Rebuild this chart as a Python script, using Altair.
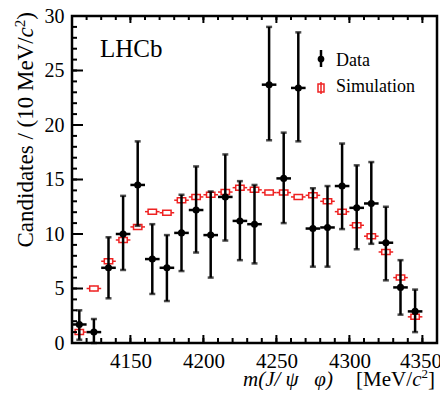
import altair as alt
import pandas as pd

# bin centres of m(J/psi phi) [MeV/c^2], 10 MeV bins
mass = [4115, 4125, 4135, 4145, 4155, 4165, 4175, 4185, 4195, 4205, 4215, 4225,
        4235, 4245, 4255, 4265, 4275, 4285, 4295, 4305, 4315, 4325, 4335, 4345]
data_val = [1.7, 1.0, 6.9, 10.0, 14.5, 7.7, 6.9, 10.1, 12.2, 9.9, 13.4, 11.2,
            10.9, 23.7, 15.1, 23.4, 10.5, 10.6, 14.4, 12.4, 12.8, 9.2, 5.1, 2.9]
data_hi = [3.0, 2.2, 9.7, 13.5, 18.5, 10.9, 9.9, 13.6, 16.2, 13.9, 17.3, 14.85,
           14.5, 29.0, 19.3, 28.5, 14.2, 14.4, 18.3, 16.3, 16.6, 12.5, 7.6, 4.9]
data_lo = [0.3, 0.0, 4.1, 6.7, 10.75, 4.5, 3.85, 6.6, 8.3, 6.0, 9.4, 7.6,
           7.3, 18.6, 11.0, 18.5, 7.0, 7.0, 10.45, 8.6, 9.1, 5.75, 2.6, 1.0]
sim_val = [1.0, 5.0, 7.5, 9.45, 10.65, 12.05, 11.95, 13.1, 13.4, 13.6, 13.85, 14.25,
           14.05, 13.8, 13.8, 13.4, 13.55, 13.0, 12.05, 10.8, 9.8, 8.35, 6.0, 2.4]
sim_err = [0.25, 0.25, 0.25, 0.25, 0.25, 0.25, 0.25, 0.25, 0.25, 0.25, 0.25, 0.25,
           0.25, 0.25, 0.25, 0.25, 0.25, 0.25, 0.25, 0.25, 0.25, 0.25, 0.25, 0.25]
half_bin = 5

x_major = [4150, 4200, 4250, 4300, 4350]
x_minor = [4110, 4120, 4130, 4140, 4150, 4160, 4170, 4180, 4190, 4200, 4210, 4220, 4230,
           4240, 4250, 4260, 4270, 4280, 4290, 4300, 4310, 4320, 4330, 4340, 4350, 4360]
y_major = [0, 5, 10, 15, 20, 25, 30]
y_minor = list(range(0, 31))

RED = "#ee2222"
FONT = "Liberation Serif"
W, H = 365, 327

df = pd.DataFrame({
    "m": mass,
    "val": data_val,
    "hi": data_hi,
    "lo": data_lo,
    "sim": sim_val,
    "serr": sim_err,
})
df["m_lo"] = df["m"] - half_bin
df["m_hi"] = df["m"] + half_bin
df["s_lo"] = df["sim"] - df["serr"]
df["s_hi"] = df["sim"] + df["serr"]

xs = alt.Scale(domain=[4110, 4360], nice=False, zero=False)
ys = alt.Scale(domain=[0, 30], nice=False, zero=True)
xaxis = alt.Axis(values=x_major, title=None, ticks=False, domain=False, grid=False,
                 labelFont=FONT, labelFontSize=21, labelColor="black", labelPadding=7,
                 format="d", labelFlush=False,
                 labelOffset={"condition": {"test": "datum.value == 4350", "value": -2},
                              "value": 0})
yaxis = alt.Axis(values=y_major, title=None, ticks=False, domain=False, grid=False,
                 labelFont=FONT, labelFontSize=20, labelColor="black", labelPadding=8)


def X(f):
    return alt.X(f, type="quantitative", scale=xs, axis=xaxis)


def Y(f):
    return alt.Y(f, type="quantitative", scale=ys, axis=yaxis)


base = alt.Chart(df)

# simulation
sim_h = base.mark_rule(color=RED, strokeWidth=1.5).encode(x=X("m_lo"), x2="m_hi", y=Y("sim"))
sim_v = base.mark_rule(color=RED, strokeWidth=1.5).encode(x=X("m"), y=Y("s_lo"), y2="s_hi")
sim_pt = base.mark_point(shape="M-1,-0.6H1V0.6H-1Z", filled=True, fill="white", stroke=RED,
                         strokeWidth=1.5, size=70, opacity=1, fillOpacity=1).encode(
    x=X("m"), y=Y("sim"))

# data
dat_v = base.mark_rule(color="black", strokeWidth=2.5).encode(x=X("m"), y=Y("lo"), y2="hi")
dat_h = base.mark_rule(color="black", strokeWidth=2.5).encode(x=X("m_lo"), x2="m_hi", y=Y("val"))
cap_hi = base.mark_tick(orient="horizontal", color="black", thickness=2.5, size=6).encode(
    x=X("m"), y=Y("hi"))
cap_lo = base.mark_tick(orient="horizontal", color="black", thickness=2.5, size=6).encode(
    x=X("m"), y=Y("lo"))
dat_pt = base.mark_circle(color="black", size=50, opacity=1).encode(x=X("m"), y=Y("val"))

# inside ticks
xmin_df = pd.DataFrame({"t": x_minor})
xmaj_df = pd.DataFrame({"t": x_major})
ymin_df = pd.DataFrame({"t": y_minor})
ymaj_df = pd.DataFrame({"t": y_major})
tk = dict(color="black", strokeWidth=2)
t_bmin = alt.Chart(xmin_df).mark_rule(**tk).encode(x=X("t"), y=alt.value(H), y2=alt.value(H - 5))
t_bmaj = alt.Chart(xmaj_df).mark_rule(**tk).encode(x=X("t"), y=alt.value(H), y2=alt.value(H - 8))
t_tmin = alt.Chart(xmin_df).mark_rule(**tk).encode(x=X("t"), y=alt.value(0), y2=alt.value(4))
t_tmaj = alt.Chart(xmaj_df).mark_rule(**tk).encode(x=X("t"), y=alt.value(0), y2=alt.value(7))
t_lmin = alt.Chart(ymin_df).mark_rule(**tk).encode(y=Y("t"), x=alt.value(0), x2=alt.value(5))
t_lmaj = alt.Chart(ymaj_df).mark_rule(**tk).encode(y=Y("t"), x=alt.value(0), x2=alt.value(11))

one = pd.DataFrame({"k": [0]})


def txt(text, x, y, size, align="left", style="normal", angle=0):
    kw = dict(text=text, font=FONT, fontSize=size, align=align, baseline="alphabetic",
              fontStyle=style, color="black")
    if angle:
        kw["angle"] = angle
    return alt.Chart(one).mark_text(**kw).encode(x=alt.value(x), y=alt.value(y))


# LHCb label
lhcb = txt("LHCb", 28, 40.7, 25)

# x title
xt = [
    txt("m(J/\u00a0\u03c8\u00a0\u00a0\u00a0\u03c6)", 171, 370, 21, "left", "italic"),
    txt("[MeV/", 340, 370, 21, "right"),
    txt("c", 349.5, 370, 21, "right", "italic"),
    txt("2", 356, 362, 13, "right"),
    txt("]", 363, 370, 21, "right"),
]

# y title (rotated)
yt = [
    txt(")", -39, -4, 23, "right", angle=270),
    txt("2", -47.5, 3.7, 15, "right", angle=270),
    txt("c", -39, 11.2, 23, "right", "italic", angle=270),
    txt("Candidates / (10 MeV/", -39, 21.4, 23, "right", angle=270),
]

# legend
leg = [
    alt.Chart(one).mark_rule(color="black", strokeWidth=2.5).encode(
        x=alt.value(249), y=alt.value(34), y2=alt.value(51)),
    alt.Chart(one).mark_circle(color="black", size=45, opacity=1).encode(
        x=alt.value(249), y=alt.value(43)),
    alt.Chart(one).mark_point(shape="M-0.75,-1H0.75V1H-0.75Z M0,-1.5V-1 M0,1V1.5 M0,-1V1",
                              filled=False, stroke=RED, strokeWidth=1.5, size=64, opacity=1).encode(
        x=alt.value(249), y=alt.value(72)),
    txt("Data", 264, 49.7, 18),
    txt("Simulation", 264, 75.7, 18),
]

chart = alt.layer(
    sim_h, sim_v, sim_pt, dat_v, dat_h, cap_hi, cap_lo, dat_pt,
    t_bmin, t_bmaj, t_tmin, t_tmaj, t_lmin, t_lmaj,
    lhcb, *xt, *yt, *leg,
).properties(
    width=W, height=H,
    autosize=alt.AutoSizeParams(type="none"),
    padding={"left": 64, "top": 8, "right": 3, "bottom": 47},
    background="white",
).configure_view(stroke="black", strokeWidth=2.5)

chart.save("out.html", embed_options={"renderer": "svg", "actions": False})
